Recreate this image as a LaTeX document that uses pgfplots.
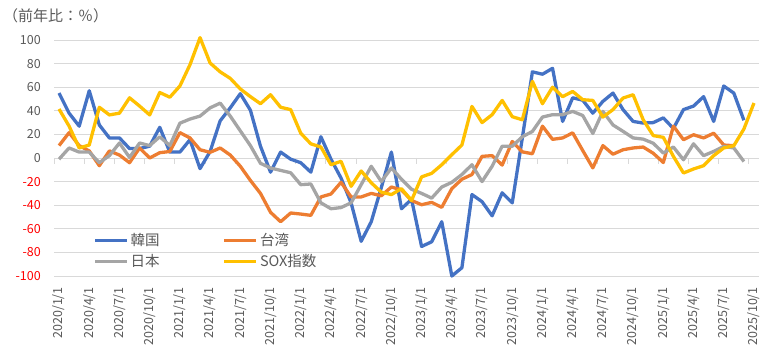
\documentclass[border=0pt]{standalone}
\usepackage{fontspec}
\setmainfont{Noto Sans CJK JP}
\usepackage{pgfplots}
\usepackage{pgfplotstable}
\pgfplotsset{compat=1.18}
\definecolor{kr}{HTML}{4472C4}
\definecolor{tw}{HTML}{ED7D31}
\definecolor{jp}{HTML}{A5A5A5}
\definecolor{sox}{HTML}{FFC000}
\definecolor{txt}{HTML}{595959}
\definecolor{gridc}{HTML}{D9D9D9}
\definecolor{negred}{HTML}{FF0000}

\pgfplotstableread{
i kr tw jp sox
0 55 10.5 -1 41.5
1 38 21.5 8.5 27
2 27 10.5 5 8.5
3 57 6 5 11
4 28 -6.5 -4 43
5 17 6 2 36.5
6 17 2.5 12.7 38
7 8 -4 0.5 51
8 8 8.5 12.7 44
9 10 0 10.5 36.5
10 26 4.5 18 55.5
11 5 5.5 10.5 51.5
12 5 21.5 29.5 61
13 15.5 17 33 79
14 -9 7 35.5 102
15 5.5 4.8 42.5 80.5
16 31.5 8.5 46.5 73
17 42.5 2.5 35.5 67.5
18 54.5 -7 23 58.5
19 40.5 -19 10.5 52
20 10 -30 -4.5 46
21 -12 -46 -8.5 53.6
22 5 -54 -10.5 43
23 -1 -46.6 -12.5 41
24 -4 -47.5 -22.6 21
25 -12 -48.6 -22 12
26 18 -33 -38 9.3
27 -1 -30.5 -43 -5.7
28 -17 -20.6 -42 -2.8
29 -38 -33 -38 -24
30 -70.6 -33 -22.6 -11
31 -54 -30 -7 -21
32 -25 -32 -20 -29
33 5 -24.6 -8.5 -31
34 -43 -27 -18 -26
35 -35 -36 -26.5 -36
36 -75 -39.6 -30 -16
37 -71 -37.6 -34 -13
38 -54 -41.8 -24.6 -5.7
39 -100 -26 -20.6 2.8
40 -93 -18 -14 11
41 -31 -14 -5.7 43.7
42 -37 1.4 -20 30
43 -49 2 -7 36.7
44 -29.5 -6 10 48.8
45 -38 14 10 35
46 17 5.2 18 32.4
47 73 3.6 22.5 65
48 71 27 34.7 46
49 76 15.8 36.7 60
50 31 17 36.7 52
51 51 21.3 39.5 56.4
52 49 6.3 36 49.4
53 38 -8.4 20.8 48.8
54 48 10.5 39.5 34.7
55 55 3.2 28 41
56 41 7 22.6 50.8
57 31 8.5 17 53.6
58 29.6 9.3 16 32.4
59 30 4 12.5 19
60 34 -3.8 4.2 17.5
61 25 27 9.3 1.4
62 41 15.5 -1.5 -12.7
63 44 19.7 12 -9.3
64 52 17 2 -6.5
65 31 21 5.6 2
66 61 11 9.8 8.5
67 55 10.4 8.5 10.4
68 32 nan -3 24.6
69 nan nan nan 46.6
}\data

\begin{document}
\begin{tikzpicture}
\useasboundingbox (0,0) rectangle (771pt,350pt);
\node[anchor=west, text=txt, font=\fontsize{15pt}{18pt}\selectfont, inner sep=0pt] at (3pt,334pt) {（前年比：％）};
\begin{axis}[
  at={(54pt,74pt)}, anchor=south west,
  scale only axis, width=705pt, height=236pt,
  xmin=-0.5, xmax=69.5, ymin=-100, ymax=100,
  axis line style={draw=none},
  major tick length=0pt,
  ymajorgrids, grid style={draw=gridc, line width=0.9pt},
  ytick={-100,-80,...,100},
  yticklabels={{\color{negred}-100},{\color{negred}-80},{\color{negred}-60},{\color{negred}-40},{\color{negred}-20},0,20,40,60,80,100},
  xtick={0,3,...,69},
  xticklabels={2020/1/1,2020/4/1,2020/7/1,2020/10/1,2021/1/1,2021/4/1,2021/7/1,2021/10/1,2022/1/1,2022/4/1,2022/7/1,2022/10/1,2023/1/1,2023/4/1,2023/7/1,2023/10/1,2024/1/1,2024/4/1,2024/7/1,2024/10/1,2025/1/1,2025/4/1,2025/7/1,2025/10/1},
  yticklabel style={anchor=east, inner sep=0pt, xshift=-13pt, text=txt, font=\fontsize{12.5pt}{15pt}\selectfont},
  xticklabel style={rotate=90, anchor=east, inner sep=0pt, text=txt, font=\fontsize{12.5pt}{15pt}\selectfont},
  xticklabel shift=11pt,
  clip=false,
  unbounded coords=jump,
  legend columns=2,
  legend cell align=left,
  legend image code/.code={\draw[#1] (0pt,0pt) -- (32pt,0pt);},
  legend style={draw=none, fill=none, at={(0.2155,0.106)}, anchor=center,
    font=\fontsize{14.5pt}{16pt}\selectfont, text=txt,
    nodes={inner sep=2pt}, row sep=3.5pt,
    /tikz/every even column/.append style={column sep=61pt}},
  every axis plot/.append style={line width=3.3pt, line join=round},
]
\pgfplotsinvokeforeach{-0.5,2.5,...,68.5}{\draw[gridc, line width=0.9pt] (axis cs:#1,0) -- ++(0pt,-6pt);}
\addplot[kr] table[x=i, y=kr]{\data};
\addlegendentry{韓国}
\addplot[tw] table[x=i, y=tw]{\data};
\addlegendentry{台湾}
\addplot[jp] table[x=i, y=jp]{\data};
\addlegendentry{日本}
\addplot[sox] table[x=i, y=sox]{\data};
\addlegendentry{SOX指数}
\end{axis}
\end{tikzpicture}
\end{document}
